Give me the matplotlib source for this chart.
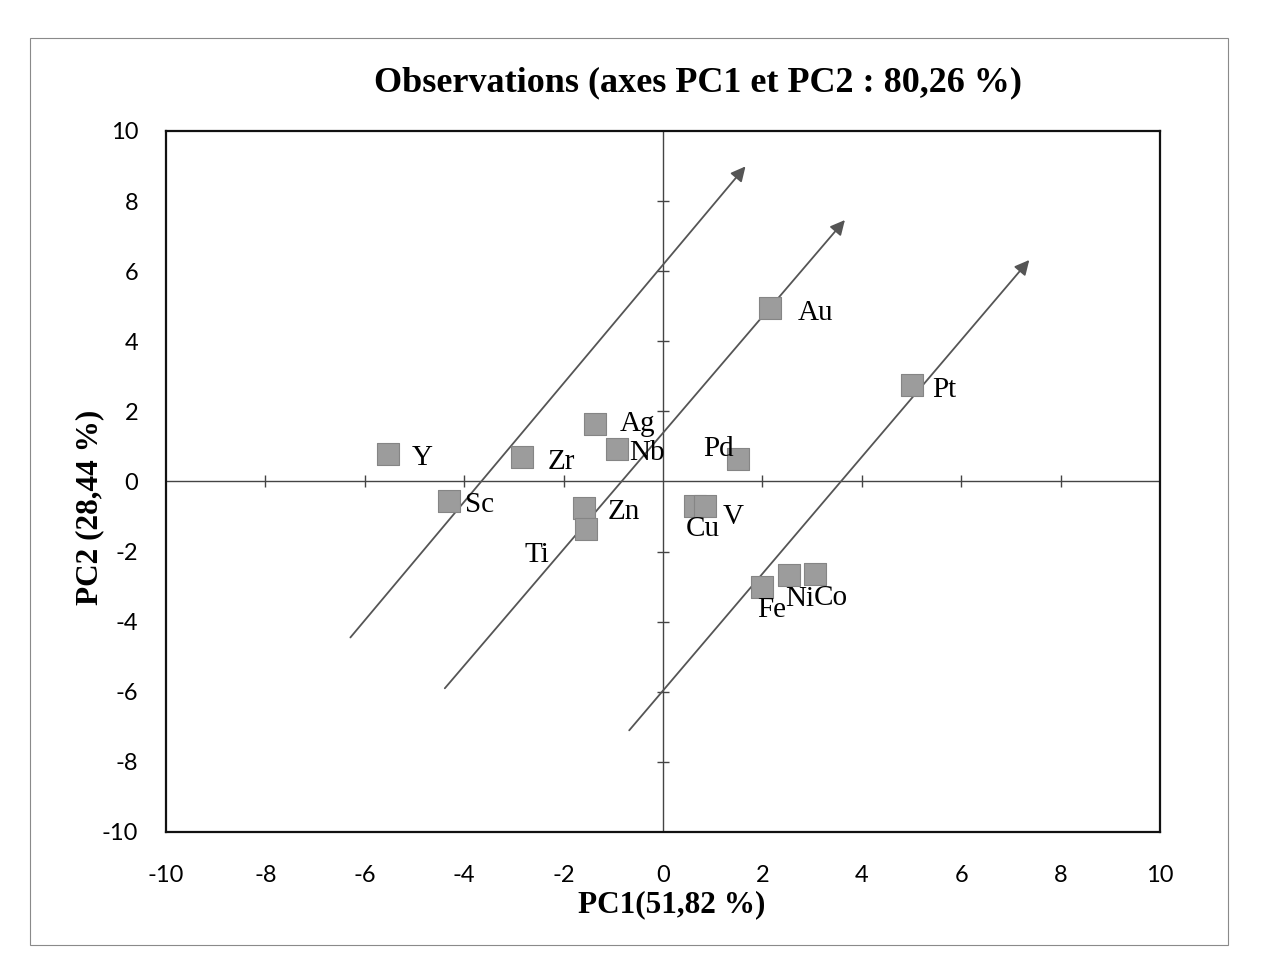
import matplotlib
matplotlib.use("Agg")
import matplotlib.pyplot as plt
import numpy as np

plt.rcParams['axes.unicode_minus'] = False

# observations (PC1, PC2)
elements = ['Y', 'Sc', 'Zr', 'Ag', 'Nb', 'Zn', 'Ti', 'Pd', 'Cu', 'V', 'Au', 'Pt', 'Fe', 'Ni', 'Co']
pc1 = [-5.54, -4.30, -2.84, -1.37, -0.93, -1.58, -1.54, 1.50, 0.64, 0.84, 2.16, 5.00, 2.00, 2.54, 3.05]
pc2 = [0.79, -0.56, 0.71, 1.63, 0.94, -0.76, -1.35, 0.64, -0.70, -0.69, 4.94, 2.74, -3.02, -2.67, -2.64]

# the three hand-drawn parallel arrows (start -> end, data units)
arrow_x0 = [-6.29, -4.39, -0.68]
arrow_y0 = [-4.45, -5.90, -7.10]
arrow_x1 = [1.66, 3.66, 7.37]
arrow_y1 = [8.99, 7.46, 6.32]

ticks = [-10, -8, -6, -4, -2, 0, 2, 4, 6, 8, 10]
cross_ticks = [-8, -6, -4, -2, 2, 4, 6, 8]

# label offsets in pixels (dx, dy down) relative to each marker
label_off = {
    'Y': (35, 4), 'Sc': (30, 4), 'Zr': (39, 5), 'Ag': (43, 0), 'Nb': (30, 4),
    'Zn': (39, 4), 'Ti': (-50, 26), 'Pd': (-19, -10), 'Cu': (8, 23), 'V': (28, 11),
    'Au': (45, 5), 'Pt': (33, 5), 'Fe': (9, 23), 'Ni': (11, 24), 'Co': (16, 24),
}

W, H = 1262, 973
serif = 'Liberation Serif'

fig = plt.figure(figsize=(W / 100, H / 100), dpi=100)
fig.patch.set_facecolor('white')

# page border from the scan
fig.add_artist(plt.Rectangle((30 / W, 1 - 945 / H), (1228 - 30) / W, (945 - 38) / H,
                             transform=fig.transFigure, fill=False, ec='#8a8a8a', lw=0.8))

ax = fig.add_axes([166 / W, 1 - 832 / H, (1160 - 166) / W, (832 - 131) / H])
ax.set_xlim(-10, 10)
ax.set_ylim(-10, 10)
ax.set_xticks(ticks)
ax.set_yticks(ticks)
ax.tick_params(length=0, labelsize=17, pad=0)
ax.tick_params(axis='x', pad=24)
ax.tick_params(axis='y', pad=20)
for lab in ax.get_xticklabels() + ax.get_yticklabels():
    lab.set_family('Lato')
for s in ax.spines.values():
    s.set_linewidth(1.6)
    s.set_color('#111111')

# cross-hair through origin with small ticks
ax.axhline(0, color='#444444', lw=1.0, zorder=1)
ax.axvline(0, color='#444444', lw=1.0, zorder=1)
ax.plot(cross_ticks, np.zeros(len(cross_ticks)), ls='none', marker='|', ms=9, mew=1.0, color='#444444')
ax.plot(np.zeros(len(cross_ticks)), cross_ticks, ls='none', marker='_', ms=9, mew=1.0, color='#444444')

# arrows
for x0, y0, x1, y1 in zip(arrow_x0, arrow_y0, arrow_x1, arrow_y1):
    ax.annotate('', xy=(x1, y1), xytext=(x0, y0),
                arrowprops=dict(arrowstyle='-|>', color='#555555', lw=1.3,
                                mutation_scale=22, shrinkA=0, shrinkB=0), zorder=2)

# observations
ax.scatter(pc1, pc2, marker='s', s=250, facecolor='#9c9c9c', edgecolor='#858585',
           linewidth=0.8, zorder=3)
for name, x, y in zip(elements, pc1, pc2):
    dx, dy = label_off[name]
    ax.annotate(name, (x, y), xytext=(dx * 0.72, -dy * 0.72), textcoords='offset points',
                ha='center', va='center', fontsize=21, family=serif, zorder=4)

fig.text(698 / W, 1 - 83 / H, 'Observations (axes PC1 et PC2 : 80,26 %)',
         ha='center', va='center', fontsize=26, fontweight='bold', family=serif)
fig.text(672 / W, 1 - 905 / H, 'PC1(51,82 %)', ha='center', va='center',
         fontsize=22.5, fontweight='bold', family=serif)
fig.text(90 / W, 1 - 507 / H, 'PC2 (28,44 %)', ha='center', va='center', rotation=90,
         fontsize=22.5, fontweight='bold', family=serif)

fig.savefig('out.png', dpi=100)
